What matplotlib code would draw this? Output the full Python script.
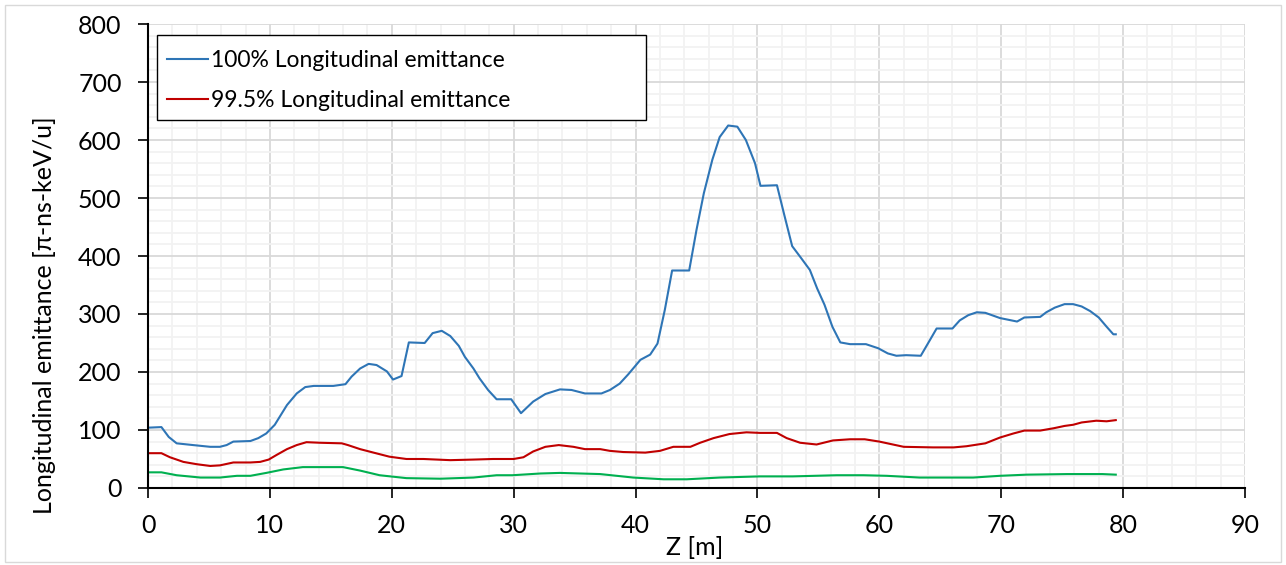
import matplotlib.pyplot as plt
from matplotlib.patches import Rectangle
from matplotlib.ticker import MultipleLocator

plt.rcParams['font.family'] = ['Lato', 'DejaVu Sans']

# 100% longitudinal emittance
z_full = [0, 1.1, 1.7, 2.35, 3.7, 5.1, 5.9, 6.45, 7.0, 8.4, 9.05, 9.7, 10.4, 11.4,
          12.2, 12.9, 13.6, 15.2, 16.2, 16.7, 17.4, 18.1, 18.75, 19.6, 20.1, 20.8,
          21.4, 22.7, 23.35, 24.1, 24.8, 25.5, 26.0, 26.7, 27.2, 27.9, 28.6, 29.8,
          30.6, 31.6, 32.6, 33.8, 34.75, 35.85, 37.2, 37.9, 38.7, 39.4, 40.4, 41.2,
          41.8, 42.4, 43.0, 44.4, 45.0, 45.6, 46.3, 46.9, 47.6, 48.35, 49.05, 49.8,
          50.25, 51.6, 52.2, 52.85, 53.6, 54.3, 54.9, 55.5, 56.15, 56.8, 57.6, 58.9,
          59.9, 60.7, 61.4, 62.2, 63.4, 64.15, 64.7, 66.0, 66.6, 67.3, 68.0, 68.7,
          69.9, 70.6, 71.3, 71.9, 73.2, 73.7, 74.4, 75.2, 75.9, 76.6, 77.3, 78.0,
          78.65, 79.2, 79.4]
e_full = [104, 105, 88, 77, 74, 71, 71, 74, 80, 81, 86, 94, 109, 143,
          163, 174, 176, 176, 179, 192, 206, 214, 212, 201, 187, 193,
          251, 250, 267, 271, 262, 245, 226, 206, 189, 169, 153, 153,
          129, 149, 162, 170, 169, 163, 163, 169, 180, 196, 221, 230,
          249, 307, 375, 375, 445, 508, 566, 605, 625, 623, 600, 560,
          521, 522, 471, 417, 396, 376, 344, 316, 278, 251, 248, 248,
          241, 232, 228, 229, 228, 255, 275, 275, 289, 298, 303, 302,
          293, 290, 287, 294, 295, 303, 311, 317, 317, 313, 305, 294,
          278, 265, 265]

# 99.5% longitudinal emittance
z_995 = [0, 1.1, 1.8, 2.9, 4.0, 5.1, 5.9, 7.0, 8.4, 9.2, 9.9, 10.55, 11.4, 12.2,
         13.0, 14.1, 15.9, 16.4, 17.4, 18.5, 19.8, 21.2, 22.6, 24.8, 26.7, 28.3,
         30.0, 30.8, 31.6, 32.6, 33.7, 34.9, 35.85, 37.1, 37.9, 39.0, 40.8, 42.0,
         43.1, 44.5, 45.3, 46.4, 47.7, 49.1, 50.2, 51.6, 52.4, 53.5, 54.85, 56.2,
         57.6, 58.8, 60.0, 62.0, 64.4, 66.1, 67.15, 68.7, 69.9, 71.0, 71.9, 73.2,
         74.3, 75.2, 75.9, 76.6, 77.8, 78.65, 79.4]
e_995 = [60, 60, 53, 45, 41, 38, 39, 44, 44, 45, 49, 57, 67, 74,
         79, 78, 77, 74, 67, 61, 54, 50, 50, 48, 49, 50,
         50, 53, 63, 71, 74, 71, 67, 67, 64, 62, 61, 64,
         71, 71, 78, 86, 93, 96, 95, 95, 86, 78, 75, 82,
         84, 84, 80, 71, 70, 70, 72, 77, 87, 94, 99, 99,
         103, 107, 109, 113, 116, 115, 117]

# third (core) emittance curve, not in the legend
z_core = [0, 1.1, 2.35, 4.3, 5.9, 7.3, 8.4, 9.7, 11.1, 12.7, 13.6, 16.0, 17.4,
          19.0, 21.2, 24.0, 26.7, 28.6, 29.9, 32.2, 33.8, 37.1, 39.8, 42.3, 44.2,
          46.9, 50.2, 52.9, 56.5, 58.7, 60.6, 63.3, 64.4, 67.7, 69.9, 72.1, 75.4,
          78.3, 79.4]
e_core = [27, 27, 22, 18, 18, 21, 21, 26, 32, 36, 36, 36, 30,
          22, 17, 16, 18, 22, 22, 25, 26, 24, 18, 15, 15,
          18, 20, 20, 22, 22, 21, 18, 18, 18, 21, 23, 24,
          24, 23]

fig = plt.figure(figsize=(12.86, 5.65), dpi=100)
fig.patches.append(Rectangle((0.0039, 0.005), 0.9922, 0.986, transform=fig.transFigure,
                             fill=False, edgecolor='#d9d9d9', linewidth=1))
ax = fig.add_axes([0.1151, 0.1363, 0.853, 0.8212])

ax.plot(z_full, e_full, color='#2e75b6', linewidth=1.5, label='100% Longitudinal emittance')
ax.plot(z_995, e_995, color='#c00000', linewidth=1.5, label='99.5% Longitudinal emittance')
ax.plot(z_core, e_core, color='#00b050', linewidth=1.5, label='_nolegend_')

ax.set_xlim(0, 90)
ax.set_ylim(0, 800)
ax.xaxis.set_major_locator(MultipleLocator(10))
ax.xaxis.set_minor_locator(MultipleLocator(2))
ax.yaxis.set_major_locator(MultipleLocator(100))
ax.yaxis.set_minor_locator(MultipleLocator(20))
ax.grid(which='major', color='#d9d9d9', linewidth=1.3)
ax.grid(which='minor', color='#f2f2f2', linewidth=1.3)
ax.set_axisbelow(True)

for s in ['top', 'right']:
    ax.spines[s].set_visible(False)
for s in ['left', 'bottom']:
    ax.spines[s].set_linewidth(1.5)
ax.tick_params(which='major', direction='out', length=7, width=1.2, labelsize=18, pad=12)
ax.tick_params(which='minor', length=0)

ax.set_xlabel('Z [m]', fontsize=18)
ax.xaxis.set_label_coords(0.4986, -0.104)
ax.set_ylabel('Longitudinal emittance [π-ns-keV/u]', fontsize=18)
ax.yaxis.set_label_coords(-0.084, 0.373)

# legend box with white fill, drawn separately so it can be wider than its text
ax.add_patch(Rectangle((0.0082, 0.793), 0.446, 0.183, transform=ax.transAxes,
                       facecolor='white', edgecolor='black', linewidth=1, zorder=4))
leg = ax.legend(loc='upper left', bbox_to_anchor=(0.0173, 0.945), fontsize=16.5,
                frameon=False, handlelength=1.8, handletextpad=0.13,
                borderpad=0, labelspacing=0.85, borderaxespad=0)
leg.set_zorder(5)

fig.savefig('out.png', dpi=100)
